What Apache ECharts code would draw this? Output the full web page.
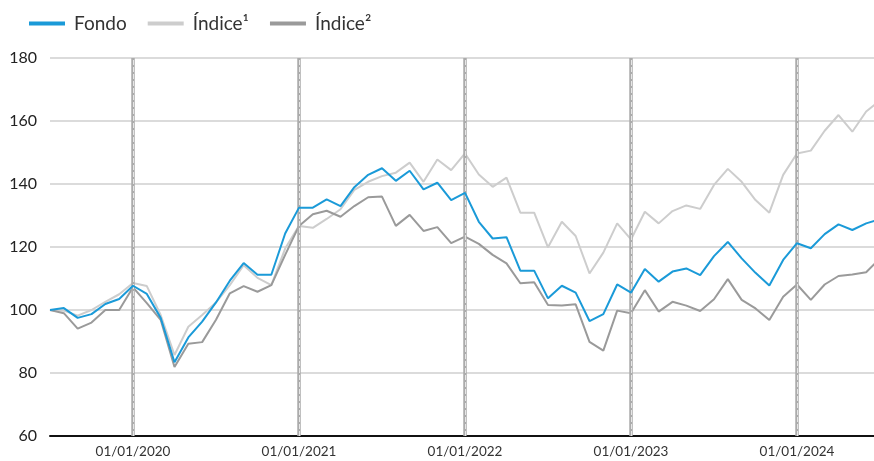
<!DOCTYPE html>
<html>
<head>
<meta charset="utf-8">
<script src="https://cdn.jsdelivr.net/npm/echarts@6/dist/echarts.min.js"></script>
<style>
  html, body { margin: 0; padding: 0; background: #fff; }
  #chart { width: 874px; height: 461px; }
</style>
</head>
<body>
<div id="chart"></div>
<script>
// meses (fin de mes)
const months = [
  '2019-07', '2019-08', '2019-09', '2019-10', '2019-11', '2019-12',
  '2020-01', '2020-02', '2020-03', '2020-04', '2020-05', '2020-06',
  '2020-07', '2020-08', '2020-09', '2020-10', '2020-11', '2020-12',
  '2021-01', '2021-02', '2021-03', '2021-04', '2021-05', '2021-06',
  '2021-07', '2021-08', '2021-09', '2021-10', '2021-11', '2021-12',
  '2022-01', '2022-02', '2022-03', '2022-04', '2022-05', '2022-06',
  '2022-07', '2022-08', '2022-09', '2022-10', '2022-11', '2022-12',
  '2023-01', '2023-02', '2023-03', '2023-04', '2023-05', '2023-06',
  '2023-07', '2023-08', '2023-09', '2023-10', '2023-11', '2023-12',
  '2024-01', '2024-02', '2024-03', '2024-04', '2024-05', '2024-06',
  '2024-07'
];

const fondo = [
  100, 100.6, 97.5, 98.7, 101.9, 103.5,
  107.7, 105.1, 97.5, 83.4, 91.3, 96.3,
  102.4, 109.3, 114.9, 111.2, 111.2, 124.3,
  132.5, 132.5, 135.1, 133.0, 139.0, 142.9,
  145.0, 141.0, 144.2, 138.3, 140.4, 134.9,
  137.2, 128.0, 122.7, 123.1, 112.5, 112.5,
  103.7, 107.7, 105.5, 96.5, 98.7, 108.1,
  105.5, 113.0, 109.0, 112.2, 113.2, 111.1,
  117.1, 121.6, 116.4, 111.8, 107.8, 115.9,
  121.2, 119.6, 124.1, 127.2, 125.4, 127.5,
  128.8
];

const indice1 = [
  100, 99.8, 98.2, 100, 102.6, 105,
  108.6, 107.6, 98.4, 85.7, 94.7, 98.4,
  102.4, 107.9, 114.2, 110.2, 107.9, 119.5,
  126.7, 126.1, 128.9, 132.0, 138.1, 140.7,
  142.5, 143.6, 146.8, 140.7, 147.8, 144.4,
  149.7, 143.0, 139.1, 142.0, 130.9, 130.9,
  119.9, 128.0, 123.5, 111.6, 118.2, 127.5,
  122.4, 131.2, 127.5, 131.4, 133.2, 132.1,
  139.7, 144.8, 140.7, 134.9, 130.9, 142.9,
  149.7, 150.6, 156.9, 161.9, 156.6, 163.0,
  166.5
];

const indice2 = [
  100, 99, 94.1, 96, 100, 100,
  107.2, 102.2, 96.9, 81.9, 89.3, 89.8,
  96.9, 105.3, 107.6, 105.8, 107.9, 117.5,
  126.7, 130.4, 131.5, 129.6, 133.0, 135.8,
  136.0, 126.7, 130.2, 125.1, 126.3, 121.2,
  123.3, 121.0, 117.5, 114.8, 108.5, 108.8,
  101.6, 101.4, 101.8, 89.9, 87.1, 99.8,
  99.0, 106.3, 99.5, 102.6, 101.4, 99.7,
  103.4, 109.8, 103.2, 100.5, 96.8, 104.2,
  108.1, 103.2, 108.1, 110.8, 111.3, 112.0,
  116.4
];

// líneas verticales de inicio de año
const yearStarts = ['2020-01', '2021-01', '2022-01', '2023-01', '2024-01'];

const chart = echarts.init(document.getElementById('chart'));

const font = 'Lato, "Noto Sans", sans-serif';

const yearLines = yearStarts.map(function (m) { return { xAxis: m }; });

const option = {
  animation: false,
  textStyle: { fontFamily: font },
  legend: {
    left: 24,
    top: 9,
    itemWidth: 36,
    itemHeight: 4,
    itemGap: 21,
    icon: 'rect',
    textStyle: { fontSize: 19, color: '#333', fontFamily: font },
    data: [
      { name: 'Fondo', textStyle: { padding: [0, 6, 0, 4] } },
      { name: 'Índice¹', textStyle: { padding: [0, 9, 0, 4] } },
      { name: 'Índice²', textStyle: { padding: [0, 0, 0, 4] } }
    ]
  },
  grid: {
    left: 50,
    right: -6,
    top: 58,
    bottom: 25,
    outerBoundsMode: 'none'
  },
  xAxis: {
    type: 'category',
    data: months,
    boundaryGap: false,
    axisLine: { show: true, lineStyle: { color: '#111', width: 2 } },
    axisTick: { show: false },
    splitLine: { show: false },
    axisLabel: {
      interval: function (index, value) {
        return yearStarts.indexOf(value) >= 0;
      },
      formatter: function (value) {
        return '01/01/' + value.slice(0, 4);
      },
      fontSize: 13.5,
      color: '#333',
      margin: 9,
      fontFamily: font
    }
  },
  yAxis: {
    type: 'value',
    min: 60,
    max: 180,
    interval: 20,
    axisLine: { show: false },
    axisTick: { show: false },
    axisLabel: { fontSize: 16, color: '#222', margin: 13, fontFamily: font },
    splitLine: { show: true, lineStyle: { color: '#cfcfcf', width: 1.5 } }
  },
  series: [
    {
      name: 'Fondo',
      type: 'line',
      data: fondo,
      showSymbol: false,
      symbol: 'none',
      z: 5,
      lineStyle: { width: 2, color: '#1a9ad8' },
      itemStyle: { color: '#1a9ad8' }
    },
    {
      name: 'Índice¹',
      type: 'line',
      data: indice1,
      showSymbol: false,
      symbol: 'none',
      z: 3,
      lineStyle: { width: 2, color: '#cdcdcd' },
      itemStyle: { color: '#cdcdcd' }
    },
    {
      name: 'Índice²',
      type: 'line',
      data: indice2,
      showSymbol: false,
      symbol: 'none',
      z: 4,
      lineStyle: { width: 2, color: '#9a9a9a' },
      itemStyle: { color: '#9a9a9a' }
    },
    {
      name: 'lineasAnio',
      type: 'line',
      data: [],
      z: 2,
      markLine: {
        silent: true,
        symbol: 'none',
        label: { show: false },
        lineStyle: { color: '#ababab', width: 3.5, type: 'solid' },
        data: yearLines
      }
    },
    {
      name: 'lineasAnioTrazo',
      type: 'line',
      data: [],
      z: 2,
      markLine: {
        silent: true,
        symbol: 'none',
        label: { show: false },
        lineStyle: { color: '#e6e6e6', width: 1, type: [5, 2] },
        data: yearLines
      }
    }
  ]
};

chart.setOption(option);
window.addEventListener('resize', function () {
  chart.resize();
});
</script>
</body>
</html>
